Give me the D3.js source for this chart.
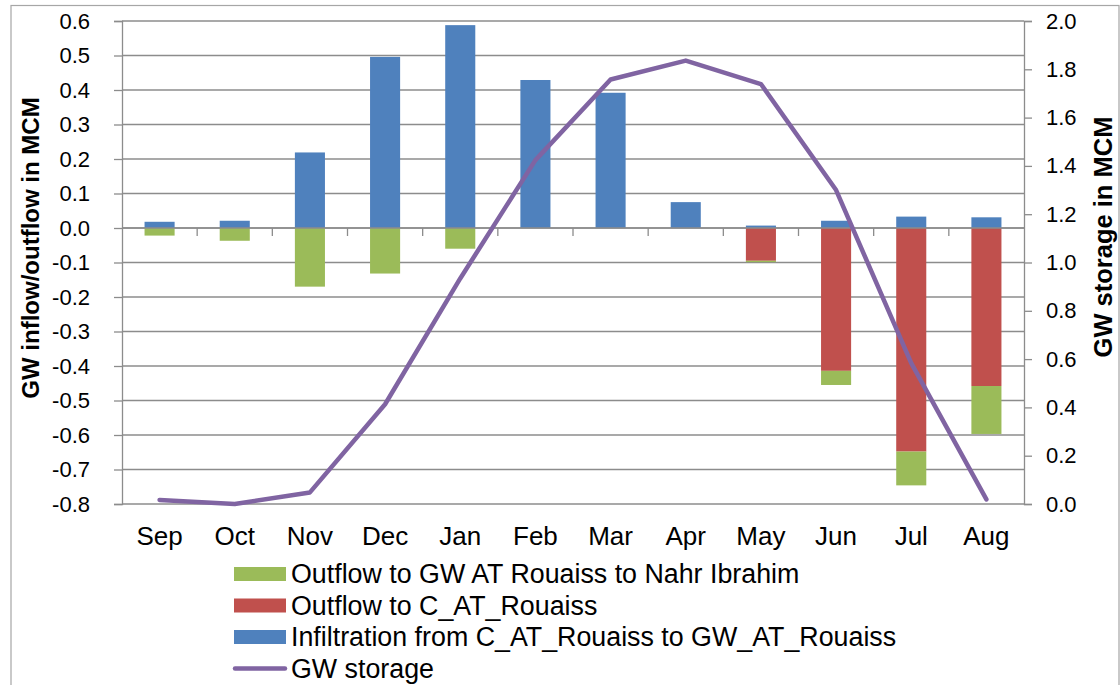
<!DOCTYPE html>
<html>
<head>
<meta charset="utf-8">
<script src="https://cdn.jsdelivr.net/npm/d3@7"></script>
<style>
  html, body { margin: 0; padding: 0; background: #fff; }
  svg { display: block; font-family: "Liberation Sans", Arial, sans-serif; }
</style>
</head>
<body>
<svg id="chart" width="1120" height="685"></svg>
<script>
// Monthly groundwater balance (MCM)
const months = ["Sep","Oct","Nov","Dec","Jan","Feb","Mar","Apr","May","Jun","Jul","Aug"];
const infiltration = [0.018, 0.021, 0.219, 0.496, 0.588, 0.429, 0.392, 0.075, 0.007, 0.021, 0.033, 0.031];
const outflowChannel = [0, 0, 0, 0, 0, 0, 0, 0, -0.095, -0.414, -0.648, -0.458];
const outflowNahr = [-0.022, -0.037, -0.170, -0.132, -0.060, 0, 0, 0, -0.004, -0.041, -0.098, -0.139];
const storage = [0.017, 0.0, 0.048, 0.413, 0.934, 1.424, 1.758, 1.836, 1.739, 1.300, 0.583, 0.019];
const leftTicks = [-0.8,-0.7,-0.6,-0.5,-0.4,-0.3,-0.2,-0.1,0,0.1,0.2,0.3,0.4,0.5,0.6];
const rightTicks = [0,0.2,0.4,0.6,0.8,1.0,1.2,1.4,1.6,1.8,2.0];

const seriesInfo = [
  { key: "inf",  label: "Infiltration from C_AT_Rouaiss to GW_AT_Rouaiss", color: "#4F81BD" },
  { key: "chan", label: "Outflow to C_AT_Rouaiss", color: "#C0504D" },
  { key: "nahr", label: "Outflow to GW AT Rouaiss to Nahr Ibrahim", color: "#9BBB59" }
];
const lineColor = "#8064A2";
const gridColor = "#8c8c8c";

const rows = months.map((m, i) => ({ month: m, inf: infiltration[i], chan: outflowChannel[i], nahr: outflowNahr[i] }));

const svg = d3.select("#chart");
const plot = { left: 122, right: 1024, top: 21, bottom: 504 };

const x = d3.scaleBand().domain(months).range([plot.left, plot.right]).paddingInner(0.6).paddingOuter(0.3);
const yL = d3.scaleLinear().domain([-0.8, 0.6]).range([plot.bottom, plot.top]);
const yR = d3.scaleLinear().domain([0, 2.0]).range([plot.bottom, plot.top]);

// chart-area frame
svg.append("rect").attr("x", 11).attr("y", 5.5).attr("width", 1108).attr("height", 720)
  .attr("fill", "none").attr("stroke", "#a6a6a6").attr("stroke-width", 1.2);

// horizontal gridlines
svg.append("g").selectAll("line").data(leftTicks).join("line")
  .attr("x1", plot.left).attr("x2", plot.right)
  .attr("y1", d => yL(d)).attr("y2", d => yL(d))
  .attr("stroke", gridColor).attr("stroke-width", 1.3);

// left axis
const axL = svg.append("g").attr("transform", `translate(${plot.left},0)`)
  .call(d3.axisLeft(yL).tickValues(leftTicks).tickFormat(d3.format(".1f")).tickSize(8).tickPadding(24));
axL.select(".domain").attr("stroke", gridColor).attr("stroke-width", 1.3);
axL.selectAll(".tick line").attr("stroke", gridColor).attr("stroke-width", 1.3);
axL.selectAll("text").attr("font-size", 22).attr("fill", "#000")
  .attr("font-family", "'Liberation Sans', Arial, sans-serif")
  .text(d => d3.format(".1f")(d).replace("−", "-"));

// right axis
const axR = svg.append("g").attr("transform", `translate(${plot.right},0)`)
  .call(d3.axisRight(yR).tickValues(rightTicks).tickFormat(d3.format(".1f")).tickSize(8).tickPadding(14));
axR.select(".domain").attr("stroke", gridColor).attr("stroke-width", 1.3);
axR.selectAll(".tick line").attr("stroke", gridColor).attr("stroke-width", 1.3);
axR.selectAll("text").attr("font-size", 22).attr("fill", "#000")
  .attr("font-family", "'Liberation Sans', Arial, sans-serif");

// stacked bars (diverging around zero)
const stack = d3.stack().keys(seriesInfo.map(s => s.key)).offset(d3.stackOffsetDiverging);
const layers = stack(rows);
svg.append("g").selectAll("g").data(layers).join("g")
  .attr("fill", (d, i) => seriesInfo[i].color)
  .selectAll("rect").data(d => d).join("rect")
  .attr("x", d => x(d.data.month))
  .attr("width", x.bandwidth())
  .attr("y", d => yL(Math.max(d[0], d[1])))
  .attr("height", d => Math.abs(yL(d[0]) - yL(d[1])));

// category axis along zero
const zeroY = yL(0);
svg.append("line").attr("x1", plot.left).attr("x2", plot.right)
  .attr("y1", zeroY).attr("y2", zeroY).attr("stroke", gridColor).attr("stroke-width", 1.3);
const boundaries = months.slice(1).map(m => x(m) - x.step() * x.paddingInner() / 2);
svg.append("g").selectAll("line").data(boundaries).join("line")
  .attr("x1", d => d).attr("x2", d => d)
  .attr("y1", zeroY).attr("y2", zeroY + 8)
  .attr("stroke", gridColor).attr("stroke-width", 1.3);

// month labels along the bottom
svg.append("g").selectAll("text").data(months).join("text")
  .attr("x", d => x(d) + x.bandwidth() / 2)
  .attr("y", 545)
  .attr("text-anchor", "middle")
  .attr("font-size", 26)
  .text(d => d);

// storage line on the secondary axis
const line = d3.line()
  .x((d, i) => x(months[i]) + x.bandwidth() / 2)
  .y(d => yR(d));
svg.append("path").datum(storage)
  .attr("d", line)
  .attr("fill", "none")
  .attr("stroke", lineColor)
  .attr("stroke-width", 4.5)
  .attr("stroke-linejoin", "round")
  .attr("stroke-linecap", "round");

// axis titles
svg.append("text")
  .attr("transform", "translate(39,248) rotate(-90)")
  .attr("text-anchor", "middle")
  .attr("font-size", 24).attr("font-weight", "bold")
  .text("GW inflow/outflow in MCM");
svg.append("text")
  .attr("transform", "translate(1112,237) rotate(-90)")
  .attr("text-anchor", "middle")
  .attr("font-size", 25.5).attr("font-weight", "bold")
  .text("GW storage in MCM");

// legend
const legendItems = [
  { label: seriesInfo[2].label, color: seriesInfo[2].color, type: "rect" },
  { label: seriesInfo[1].label, color: seriesInfo[1].color, type: "rect" },
  { label: seriesInfo[0].label, color: seriesInfo[0].color, type: "rect" },
  { label: "GW storage", color: lineColor, type: "line" }
];
const legend = svg.append("g");
legendItems.forEach((it, i) => {
  const cy = 574 + i * 31.5;
  if (it.type === "rect") {
    legend.append("rect").attr("x", 234).attr("y", cy - 7).attr("width", 52).attr("height", 14).attr("fill", it.color);
  } else {
    legend.append("line").attr("x1", 235).attr("x2", 285).attr("y1", cy).attr("y2", cy)
      .attr("stroke", it.color).attr("stroke-width", 4.5).attr("stroke-linecap", "round");
  }
  legend.append("text").attr("x", 291).attr("y", cy + 9).attr("font-size", 26.8).text(it.label);
});
</script>
</body>
</html>
